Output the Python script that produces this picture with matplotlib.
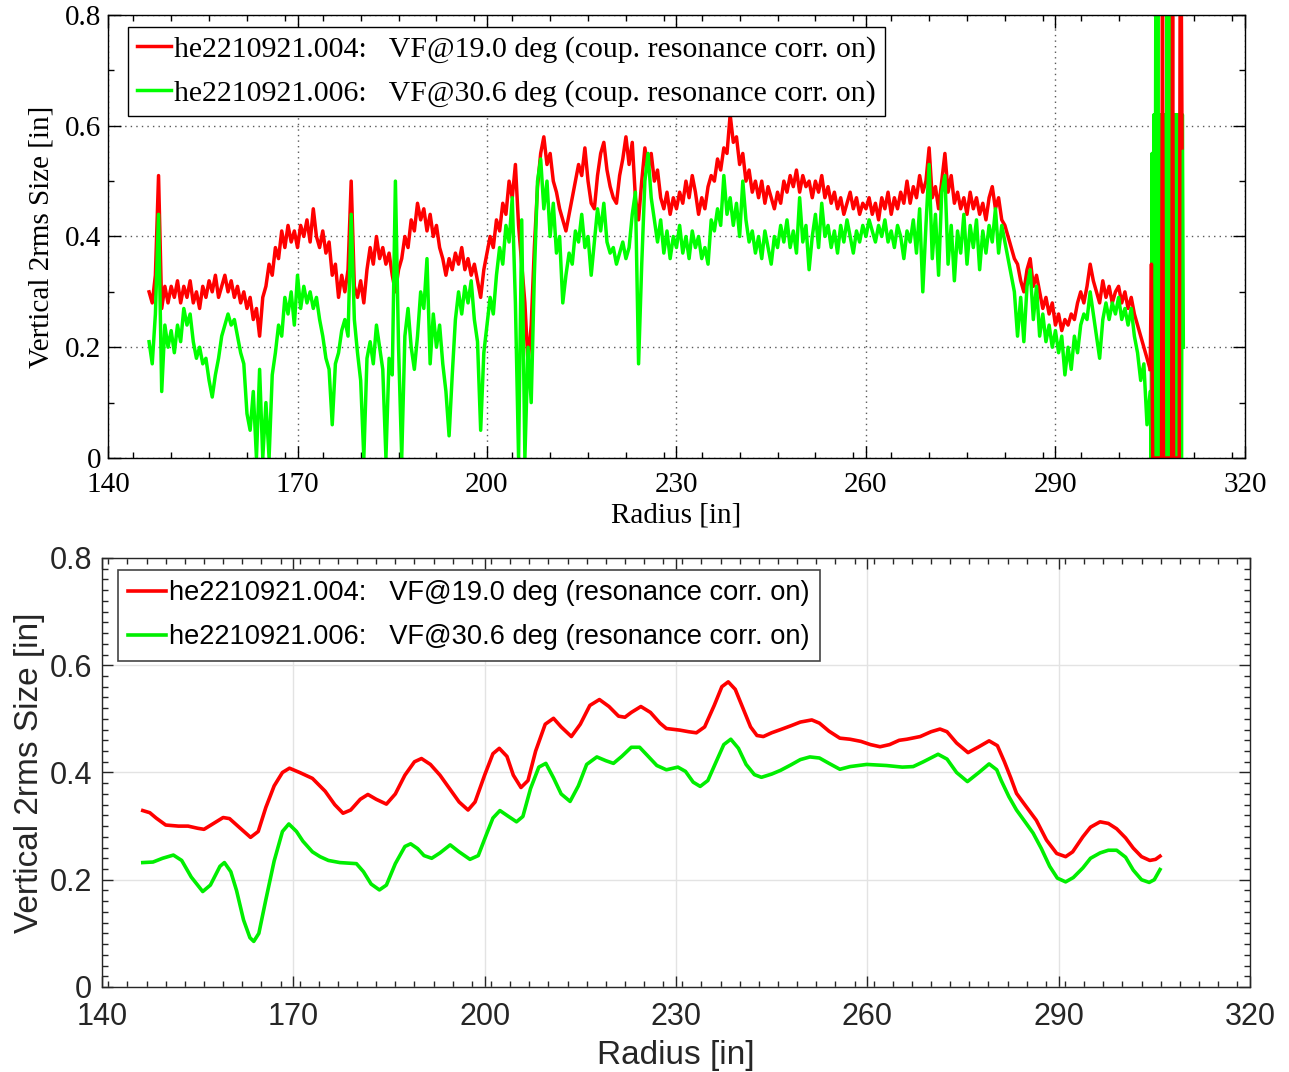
import numpy as np
import matplotlib
matplotlib.use("Agg")
import matplotlib.pyplot as plt
from matplotlib.ticker import MultipleLocator, FuncFormatter

# ---------------- top panel: raw beam size (noisy), sampled every 0.5 in from 146.5 in
red_top = [
    0.30, 0.28, 0.33, 0.51, 0.27, 0.31, 0.28, 0.31, 0.29, 0.32,
    0.28, 0.31, 0.29, 0.32, 0.28, 0.30, 0.27, 0.31, 0.29, 0.32,
    0.30, 0.33, 0.29, 0.31, 0.33, 0.30, 0.32, 0.29, 0.31, 0.28,
    0.30, 0.27, 0.29, 0.25, 0.27, 0.22, 0.29, 0.31, 0.35, 0.33,
    0.38, 0.36, 0.41, 0.38, 0.42, 0.39, 0.41, 0.38, 0.42, 0.40,
    0.43, 0.39, 0.45, 0.40, 0.38, 0.41, 0.37, 0.39, 0.33, 0.35,
    0.29, 0.33, 0.30, 0.34, 0.50, 0.31, 0.29, 0.32, 0.28, 0.34,
    0.38, 0.35, 0.40, 0.36, 0.38, 0.35, 0.37, 0.33, 0.30, 0.34,
    0.36, 0.40, 0.38, 0.43, 0.41, 0.46, 0.43, 0.45, 0.41, 0.44,
    0.40, 0.42, 0.38, 0.36, 0.33, 0.36, 0.34, 0.37, 0.35, 0.38,
    0.34, 0.36, 0.33, 0.35, 0.32, 0.29, 0.34, 0.37, 0.40, 0.38,
    0.43, 0.41, 0.46, 0.44, 0.50, 0.47, 0.53, 0.42, 0.35, 0.28,
    0.17, 0.24, 0.38, 0.49, 0.55, 0.58, 0.53, 0.55, 0.50, 0.48,
    0.45, 0.43, 0.41, 0.44, 0.47, 0.50, 0.53, 0.51, 0.56, 0.50,
    0.46, 0.45, 0.51, 0.55, 0.57, 0.52, 0.49, 0.47, 0.46, 0.51,
    0.54, 0.58, 0.53, 0.57, 0.47, 0.43, 0.50, 0.56, 0.52, 0.55,
    0.50, 0.52, 0.47, 0.45, 0.48, 0.44, 0.47, 0.45, 0.48, 0.46,
    0.50, 0.47, 0.51, 0.48, 0.44, 0.47, 0.45, 0.49, 0.51, 0.50,
    0.54, 0.52, 0.56, 0.55, 0.62, 0.57, 0.58, 0.53, 0.55, 0.50,
    0.52, 0.48, 0.50, 0.47, 0.50, 0.46, 0.49, 0.47, 0.45, 0.48,
    0.46, 0.50, 0.48, 0.51, 0.49, 0.52, 0.48, 0.51, 0.49, 0.50,
    0.47, 0.50, 0.48, 0.51, 0.47, 0.49, 0.46, 0.48, 0.45, 0.47,
    0.44, 0.46, 0.48, 0.45, 0.47, 0.44, 0.46, 0.45, 0.47, 0.44,
    0.46, 0.43, 0.47, 0.45, 0.48, 0.44, 0.47, 0.45, 0.48, 0.46,
    0.50, 0.46, 0.49, 0.47, 0.51, 0.48, 0.50, 0.56, 0.47, 0.49,
    0.45, 0.50, 0.55, 0.48, 0.51, 0.46, 0.48, 0.45, 0.47, 0.44,
    0.48, 0.45, 0.47, 0.44, 0.46, 0.43, 0.47, 0.49, 0.45, 0.47,
    0.43, 0.42, 0.40, 0.38, 0.36, 0.35, 0.32, 0.30, 0.34, 0.36,
    0.31, 0.33, 0.30, 0.27, 0.29, 0.26, 0.28, 0.24, 0.26, 0.23,
    0.25, 0.24, 0.26, 0.25, 0.28, 0.30, 0.28, 0.31, 0.35, 0.32,
    0.30, 0.28, 0.32, 0.29, 0.31, 0.28, 0.30, 0.31, 0.28, 0.30,
    0.27, 0.29, 0.26, 0.24, 0.22, 0.20, 0.18, 0.16,
]
green_top = [
    0.21, 0.17, 0.26, 0.44, 0.12, 0.24, 0.20, 0.23, 0.19, 0.24,
    0.21, 0.27, 0.24, 0.26, 0.21, 0.18, 0.20, 0.17, 0.18, 0.14,
    0.11, 0.15, 0.18, 0.22, 0.24, 0.26, 0.24, 0.25, 0.22, 0.19,
    0.17, 0.08, 0.05, 0.12, 0.00, 0.16, 0.00, 0.10, 0.00, 0.15,
    0.19, 0.24, 0.22, 0.29, 0.26, 0.30, 0.24, 0.33, 0.27, 0.31,
    0.28, 0.30, 0.27, 0.29, 0.25, 0.22, 0.18, 0.16, 0.06, 0.17,
    0.19, 0.23, 0.25, 0.22, 0.44, 0.25, 0.19, 0.14, 0.00, 0.18,
    0.21, 0.17, 0.24, 0.20, 0.16, 0.00, 0.18, 0.15, 0.50, 0.20,
    0.00, 0.22, 0.27, 0.20, 0.16, 0.22, 0.30, 0.27, 0.36, 0.17,
    0.26, 0.20, 0.24, 0.17, 0.12, 0.04, 0.15, 0.25, 0.30, 0.26,
    0.31, 0.28, 0.32, 0.25, 0.21, 0.05, 0.19, 0.24, 0.29, 0.26,
    0.33, 0.38, 0.35, 0.42, 0.39, 0.47, 0.28, 0.00, 0.43, 0.00,
    0.20, 0.10, 0.33, 0.50, 0.54, 0.45, 0.50, 0.40, 0.46, 0.37,
    0.40, 0.28, 0.33, 0.37, 0.35, 0.41, 0.39, 0.44, 0.38, 0.40,
    0.33, 0.39, 0.45, 0.41, 0.46, 0.39, 0.37, 0.38, 0.35, 0.37,
    0.39, 0.36, 0.38, 0.44, 0.48, 0.17, 0.35, 0.50, 0.55, 0.47,
    0.43, 0.39, 0.43, 0.37, 0.41, 0.36, 0.40, 0.38, 0.42, 0.37,
    0.40, 0.36, 0.41, 0.38, 0.40, 0.36, 0.38, 0.35, 0.43, 0.41,
    0.45, 0.42, 0.51, 0.44, 0.47, 0.42, 0.46, 0.40, 0.50, 0.43,
    0.39, 0.41, 0.37, 0.40, 0.36, 0.41, 0.38, 0.35, 0.40, 0.38,
    0.42, 0.39, 0.43, 0.38, 0.41, 0.37, 0.47, 0.39, 0.42, 0.34,
    0.40, 0.44, 0.38, 0.46, 0.40, 0.42, 0.38, 0.41, 0.37, 0.42,
    0.39, 0.43, 0.40, 0.37, 0.41, 0.39, 0.42, 0.40, 0.43, 0.41,
    0.39, 0.42, 0.40, 0.43, 0.39, 0.41, 0.38, 0.42, 0.40, 0.36,
    0.41, 0.39, 0.43, 0.37, 0.45, 0.30, 0.42, 0.53, 0.36, 0.44,
    0.33, 0.48, 0.51, 0.35, 0.42, 0.32, 0.41, 0.37, 0.44, 0.35,
    0.42, 0.38, 0.43, 0.34, 0.41, 0.37, 0.42, 0.39, 0.45, 0.37,
    0.42, 0.39, 0.36, 0.33, 0.30, 0.22, 0.29, 0.21, 0.31, 0.34,
    0.25, 0.31, 0.22, 0.26, 0.21, 0.24, 0.20, 0.23, 0.19, 0.22,
    0.15, 0.20, 0.16, 0.22, 0.19, 0.24, 0.26, 0.25, 0.30, 0.26,
    0.22, 0.18, 0.25, 0.28, 0.25, 0.28, 0.26, 0.29, 0.25, 0.27,
    0.24, 0.27, 0.22, 0.19, 0.14, 0.17, 0.06, 0.12,
]
# outermost turns: the signal blows up, read at a finer pitch
r_tail_green = [305.15, 305.3, 305.45, 305.6, 305.75, 305.9, 306.05, 306.2, 306.35,
                306.5, 306.65, 306.8, 306.95, 307.1, 307.25, 307.4, 307.55, 307.7,
                307.85, 308.0, 308.15, 308.3, 308.45, 308.6, 308.75, 308.9, 309.05,
                309.2, 309.35, 309.5, 309.65, 309.8, 309.95, 310.1, 310.25]
green_tail = [0.00, 0.55, 0.00, 0.62, 0.00, 0.90, 0.05, 0.90, 0.00,
              0.62, 0.00, 0.62, 0.10, 0.62, 0.00, 0.62, 0.00, 0.90,
              0.00, 0.90, 0.05, 0.62, 0.00, 0.62, 0.00, 0.62, 0.10,
              0.62, 0.00, 0.62, 0.00, 0.62, 0.00, 0.62, 0.20]
r_tail_red = [305.0, 305.2, 305.4, 306.8, 306.95, 307.1, 308.4, 308.55, 308.7,
              309.6, 309.75, 309.9, 310.05]
red_tail = [0.16, 0.35, 0.00, 0.00, 0.90, 0.00, 0.00, 0.90, 0.00,
            0.00, 0.90, 0.90, 0.56]

r_main = 146.5 + 0.5 * np.arange(len(red_top))
r_green_all = np.concatenate([r_main, r_tail_green])
green_top_all = np.concatenate([green_top, green_tail])

# ---------------- bottom panel: smoothed beam size
r_red_bot = [146.4, 147.5, 148.5, 150.0, 152.0, 153.5, 155.0, 156.0, 157.5, 159.0,
             160.0, 161.5, 163.3, 164.5, 165.7, 167.0, 168.3, 169.4, 171.0, 173.0,
             175.0, 176.5, 177.8, 179.0, 180.5, 181.7, 183.0, 184.6, 186.0, 187.5,
             189.0, 190.1, 191.5, 193.0, 194.5, 196.0, 197.4, 198.5, 200.0, 201.3,
             202.3, 203.5, 204.5, 205.7, 206.8, 208.0, 209.5, 210.8, 212.0, 213.6,
             215.0, 216.5, 218.0, 219.5, 221.0, 222.0, 223.0, 224.5, 226.0, 227.5,
             228.5, 230.6, 232.0, 233.2, 234.5, 236.0, 237.2, 238.2, 239.3, 240.5,
             241.7, 242.7, 243.7, 245.0, 246.4, 248.0, 249.5, 251.3, 252.5, 254.0,
             255.7, 257.3, 259.0, 260.5, 262.0, 263.5, 265.0, 266.2, 268.3, 270.0,
             271.4, 272.5, 274.0, 275.8, 277.5, 279.1, 280.4, 281.5, 282.5, 283.4,
             284.5, 286.5, 288.1, 289.7, 291.1, 292.2, 293.8, 295.0, 296.5, 297.8,
             299.1, 300.5, 301.7, 303.0, 304.3, 305.2, 305.9]
red_bot = [0.329, 0.325, 0.315, 0.302, 0.300, 0.300, 0.296, 0.294, 0.305, 0.316,
           0.314, 0.298, 0.279, 0.290, 0.335, 0.375, 0.400, 0.408, 0.400, 0.389,
           0.365, 0.340, 0.324, 0.330, 0.350, 0.359, 0.350, 0.341, 0.360, 0.395,
           0.420, 0.426, 0.415, 0.395, 0.370, 0.345, 0.330, 0.345, 0.395, 0.435,
           0.445, 0.430, 0.395, 0.372, 0.385, 0.440, 0.490, 0.501, 0.485, 0.467,
           0.490, 0.525, 0.536, 0.523, 0.505, 0.503, 0.512, 0.523, 0.512, 0.492,
           0.482, 0.479, 0.476, 0.474, 0.485, 0.525, 0.560, 0.569, 0.555, 0.520,
           0.485, 0.469, 0.467, 0.474, 0.480, 0.487, 0.494, 0.498, 0.492, 0.477,
           0.464, 0.462, 0.458, 0.452, 0.448, 0.452, 0.460, 0.462, 0.467, 0.476,
           0.481, 0.476, 0.455, 0.437, 0.448, 0.459, 0.450, 0.420, 0.390, 0.361,
           0.343, 0.311, 0.274, 0.249, 0.243, 0.252, 0.280, 0.298, 0.308, 0.305,
           0.295, 0.278, 0.259, 0.243, 0.236, 0.238, 0.244]

r_green_bot = [146.4, 148.0, 149.5, 151.2, 152.5, 154.0, 155.8, 157.0, 158.5, 159.2,
               160.2, 161.1, 162.2, 163.2, 163.8, 164.6, 165.7, 167.0, 168.3, 169.3,
               170.5, 171.5, 173.0, 174.2, 175.5, 177.3, 179.9, 181.0, 182.2, 183.5,
               184.6, 186.0, 187.5, 188.4, 189.5, 190.5, 191.7, 193.0, 194.6, 196.0,
               197.7, 199.0, 200.3, 201.3, 202.4, 203.5, 205.0, 206.0, 207.2, 208.5,
               209.6, 210.8, 212.0, 213.4, 214.7, 216.0, 217.6, 219.0, 220.2, 221.5,
               223.0, 224.3, 225.5, 227.0, 228.5, 230.3, 231.5, 232.7, 233.8, 235.0,
               236.3, 237.5, 238.6, 239.8, 241.0, 242.3, 243.4, 245.0, 246.4, 248.0,
               249.5, 251.0, 252.5, 254.0, 255.7, 257.3, 259.9, 263.0, 265.5, 267.2,
               268.8, 271.1, 272.5, 274.0, 275.7, 277.5, 279.1, 280.3, 281.0, 282.2,
               283.4, 284.8, 286.0, 287.3, 288.6, 289.8, 291.1, 292.3, 293.8, 295.0,
               296.5, 297.8, 299.1, 300.5, 301.7, 303.0, 304.2, 305.0, 305.9]
green_bot = [0.232, 0.233, 0.240, 0.246, 0.236, 0.205, 0.178, 0.190, 0.225, 0.232,
             0.215, 0.180, 0.125, 0.092, 0.085, 0.100, 0.163, 0.235, 0.290, 0.304,
             0.290, 0.272, 0.252, 0.243, 0.236, 0.232, 0.230, 0.215, 0.192, 0.181,
             0.190, 0.230, 0.262, 0.267, 0.258, 0.245, 0.240, 0.250, 0.265, 0.252,
             0.238, 0.245, 0.285, 0.315, 0.329, 0.320, 0.308, 0.318, 0.370, 0.410,
             0.417, 0.390, 0.360, 0.346, 0.375, 0.415, 0.429, 0.422, 0.417, 0.430,
             0.447, 0.447, 0.432, 0.413, 0.405, 0.410, 0.402, 0.382, 0.374, 0.385,
             0.420, 0.452, 0.462, 0.445, 0.415, 0.396, 0.391, 0.397, 0.404, 0.414,
             0.424, 0.429, 0.427, 0.417, 0.406, 0.411, 0.415, 0.413, 0.410, 0.411,
             0.420, 0.434, 0.425, 0.400, 0.383, 0.400, 0.416, 0.405, 0.385, 0.355,
             0.330, 0.307, 0.287, 0.258, 0.225, 0.203, 0.196, 0.204, 0.222, 0.240,
             0.250, 0.255, 0.255, 0.242, 0.218, 0.200, 0.195, 0.200, 0.219]

labels_top = ["he2210921.004:   VF@19.0 deg (coup. resonance corr. on)",
              "he2210921.006:   VF@30.6 deg (coup. resonance corr. on)"]
labels_bot = ["he2210921.004:   VF@19.0 deg (resonance corr. on)",
              "he2210921.006:   VF@30.6 deg (resonance corr. on)"]
x_ticks = [140, 170, 200, 230, 260, 290, 320]
y_ticks = [0, 0.2, 0.4, 0.6, 0.8]

fmt = FuncFormatter(lambda v, p: "0" if abs(v) < 1e-9 else "%.1f" % v)

fig = plt.figure(figsize=(12.89, 10.72), dpi=100)

# ---- top (serif, dotted grid)
serif = "Liberation Serif"
ax1 = fig.add_axes([0.0838, 0.5728, 0.8820, 0.4132])
ax1.plot(r_main, red_top, color="#ff0000", lw=2.5, label=labels_top[0])
ax1.plot(r_green_all, green_top_all, color="#00ff00", lw=2.5, label=labels_top[1])
ax1.plot(r_tail_red, red_tail, color="#ff0000", lw=2.5)
ax1.set_xlim(140, 320)
ax1.set_ylim(0, 0.8)
ax1.set_xticks(x_ticks)
ax1.set_yticks(y_ticks)
ax1.yaxis.set_major_formatter(fmt)
ax1.xaxis.set_minor_locator(MultipleLocator(6))
ax1.yaxis.set_minor_locator(MultipleLocator(0.1))
ax1.tick_params(which="both", direction="in", top=True, right=True, color="black")
ax1.tick_params(which="major", length=9, width=1)
ax1.tick_params(which="minor", length=4, width=1)
ax1.tick_params(axis="x", pad=10)
ax1.tick_params(axis="y", pad=5)
for lab in ax1.get_xticklabels() + ax1.get_yticklabels():
    lab.set_fontfamily(serif)
    lab.set_fontsize(21)
ax1.grid(True, which="major", linestyle=(0, (1, 3)), color="0.35", lw=1)
for s in ax1.spines.values():
    s.set_color("black")
    s.set_linewidth(1)
ax1.set_xlabel("Radius [in]", fontfamily=serif, fontsize=21)
ax1.set_ylabel("Vertical 2rms Size [in]", fontfamily=serif, fontsize=21)
ax1.xaxis.set_label_coords(0.5, -0.1)
ax1.yaxis.set_label_coords(-0.047, 0.5)
leg1 = ax1.legend(loc="upper left", bbox_to_anchor=(0.0176, 0.973), borderaxespad=0,
                  prop={"family": serif, "size": 21.5}, handlelength=1.15, handletextpad=0.1,
                  borderpad=0.3, labelspacing=0.55, fancybox=False, framealpha=1)
leg1.get_frame().set_edgecolor("black")
leg1.get_frame().set_linewidth(1)

# ---- bottom (sans, light grid)
sans = "Liberation Sans"
dark = "#262626"
ax2 = fig.add_axes([0.0791, 0.0793, 0.8906, 0.4002])
ax2.plot(r_red_bot, red_bot, color="#ff0000", lw=2.6, label=labels_bot[0])
ax2.plot(r_green_bot, green_bot, color="#00ee00", lw=2.6, label=labels_bot[1])
ax2.set_xlim(140, 320)
ax2.set_ylim(0, 0.8)
ax2.set_xticks(x_ticks)
ax2.set_yticks(y_ticks)
ax2.yaxis.set_major_formatter(fmt)
ax2.xaxis.set_minor_locator(MultipleLocator(3))
ax2.yaxis.set_minor_locator(MultipleLocator(0.02))
ax2.tick_params(which="both", direction="in", top=True, right=True, color=dark,
                labelcolor=dark)
ax2.tick_params(which="major", length=8, width=1)
ax2.tick_params(which="minor", length=4, width=1)
ax2.tick_params(axis="x", pad=11)
ax2.tick_params(axis="y", pad=7)
for lab in ax2.get_xticklabels() + ax2.get_yticklabels():
    lab.set_fontfamily(sans)
    lab.set_fontsize(22)
ax2.grid(True, which="major", color="#e3e3e3", lw=1)
ax2.set_axisbelow(True)
for s in ax2.spines.values():
    s.set_color(dark)
    s.set_linewidth(1)
ax2.set_xlabel("Radius [in]", fontfamily=sans, fontsize=24, color=dark)
ax2.set_ylabel("Vertical 2rms Size [in]", fontfamily=sans, fontsize=24, color=dark)
ax2.xaxis.set_label_coords(0.5, -0.123)
ax2.yaxis.set_label_coords(-0.05, 0.5)
leg2 = ax2.legend(loc="upper left", bbox_to_anchor=(0.0139, 0.972), borderaxespad=0,
                  prop={"family": sans, "size": 19.6}, handlelength=1.4, handletextpad=0.1,
                  borderpad=0.38, labelspacing=0.66, fancybox=False, framealpha=1)
leg2.get_frame().set_edgecolor("#444444")
leg2.get_frame().set_linewidth(1.2)

fig.savefig("out.png", dpi=100)
